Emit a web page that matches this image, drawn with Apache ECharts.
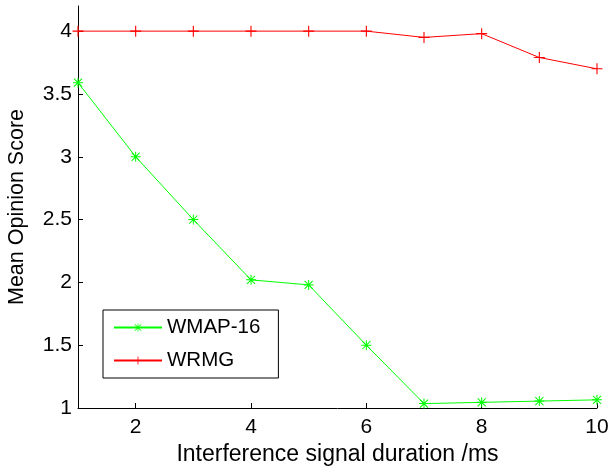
<!DOCTYPE html>
<html>
<head>
<meta charset="utf-8">
<script src="https://cdn.jsdelivr.net/npm/echarts@6/dist/echarts.min.js"></script>
<style>
  html, body { margin: 0; padding: 0; background: #fff; }
  #main { width: 610px; height: 466px; }
</style>
</head>
<body>
<div id="main"></div>
<script>
// data
const durations = [1, 2, 3, 4, 5, 6, 7, 8, 9, 10];
const wmap16 = [3.59, 3.0, 2.5, 2.02, 1.98, 1.5, 1.035, 1.045, 1.055, 1.065];
const wrmg = [4.0, 4.0, 4.0, 4.0, 4.0, 4.0, 3.95, 3.98, 3.79, 3.70];
const xTicks = [2, 4, 6, 8, 10];
const yTicks = [1, 1.5, 2, 2.5, 3, 3.5, 4];

// marker shapes like matlab '+' and '*'
const plusPath = 'path://M4.5,0H5.5V10H4.5Z M0,4.5H10V5.5H0Z';
const starPath = 'path://M4.5,0H5.5V10H4.5Z M0,4.5H10V5.5H0Z M1.3,0.6L9.4,8.7L8.7,9.4L0.6,1.3Z M8.7,0.6L9.4,1.3L1.3,9.4L0.6,8.7Z';

const font = 'Liberation Sans, Arial, sans-serif';

const pairs = arr => durations.map((d, i) => [d, arr[i]]);

var myChart = echarts.init(document.getElementById('main'));
var option = {
  animation: false,
  grid: {
    left: 78,
    right: 13,
    top: 6,
    bottom: 58,
    outerBoundsMode: 'none'
  },
  legend: {
    orient: 'vertical',
    left: 103,
    top: 310,
    padding: [7, 18, 7, 10],
    itemGap: 12,
    itemWidth: 48,
    itemHeight: 10,
    borderColor: '#000',
    borderWidth: 1,
    textStyle: { fontFamily: font, fontSize: 20.5, color: '#000' },
    data: ['WMAP-16', 'WRMG']
  },
  xAxis: {
    type: 'value',
    min: 1,
    max: 10,
    name: 'Interference signal duration /ms',
    nameLocation: 'middle',
    nameGap: 32,
    nameTextStyle: { fontFamily: font, fontSize: 23, color: '#000' },
    axisLine: { lineStyle: { color: '#000', width: 1 } },
    axisTick: { inside: true, length: 5, customValues: xTicks, lineStyle: { color: '#000' } },
    axisLabel: { customValues: xTicks, margin: 9, fontFamily: font, fontSize: 21, color: '#000' },
    splitLine: { show: false }
  },
  yAxis: {
    type: 'value',
    min: 1,
    max: 4.2,
    name: 'Mean Opinion Score',
    nameLocation: 'middle',
    nameGap: 50,
    nameTextStyle: { fontFamily: font, fontSize: 21.5, color: '#000' },
    axisLine: { show: true, lineStyle: { color: '#000', width: 1 } },
    axisTick: { show: true, inside: true, length: 5, customValues: yTicks, lineStyle: { color: '#000' } },
    axisLabel: { customValues: yTicks, margin: 6, fontFamily: font, fontSize: 21, color: '#000' },
    splitLine: { show: false }
  },
  series: [
    {
      name: 'WMAP-16',
      type: 'line',
      data: pairs(wmap16),
      symbol: starPath,
      symbolSize: 10,
      showAllSymbol: true,
      color: '#00ff00',
      lineStyle: { color: '#00ff00', width: 1 },
      itemStyle: { color: '#00ff00' }
    },
    {
      name: 'WRMG',
      type: 'line',
      data: pairs(wrmg),
      symbol: plusPath,
      symbolSize: 11,
      showAllSymbol: true,
      color: '#ff0000',
      lineStyle: { color: '#ff0000', width: 1 },
      itemStyle: { color: '#ff0000' }
    }
  ]
};
myChart.setOption(option);
window.addEventListener('resize', function () {
  myChart.resize();
});
</script>
</body>
</html>
